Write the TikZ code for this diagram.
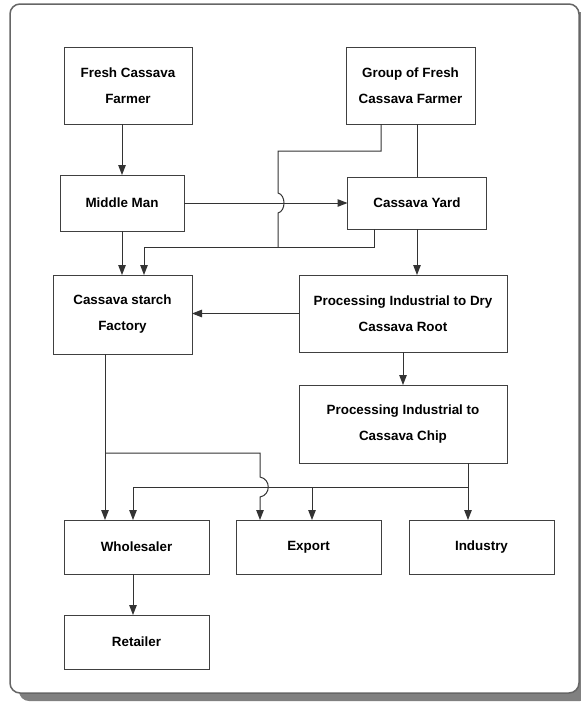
\documentclass[tikz,border=0pt]{standalone}
\usepackage{fontspec}
\setmainfont{Liberation Sans}
\usetikzlibrary{arrows.meta,calc}
\begin{document}
\begin{tikzpicture}[x=1pt,y=-1pt,
  box/.style={draw=black!75, line width=1pt, fill=white, align=center,
    font=\bfseries\fontsize{13.4}{26}\selectfont, inner sep=0pt, outer sep=0pt},
  conn/.style={draw=black!80, line width=1pt},
  arr/.style={conn, -{Triangle[length=10pt,width=7.5pt]}}]
\useasboundingbox (0,0) rectangle (581,702);
\fill[black!50, rounded corners=10pt] (19,12) rectangle (590,701);
\draw[black!60, line width=1.5pt, fill=white, rounded corners=10pt] (10,4) rectangle (579,693);

\node[box, minimum width=128pt, minimum height=77pt] (fresh) at (128,85.5) {Fresh Cassava\\Farmer};
\node[box, minimum width=129pt, minimum height=77pt] (group) at (410.5,85.5) {Group of Fresh\\Cassava Farmer};
\node[box, minimum width=124pt, minimum height=56pt] (middle) at (122,203) {Middle Man};
\node[box, minimum width=139pt, minimum height=52pt] (yard) at (417,203) {Cassava Yard};
\node[box, minimum width=139pt, minimum height=79pt] (starch) at (122.5,314.5) {Cassava starch\\Factory};
\node[box, minimum width=208pt, minimum height=77pt] (dry) at (403,313.5) {Processing Industrial to Dry\\Cassava Root};
\node[box, minimum width=208pt, minimum height=78pt] (chip) at (403,424) {Processing Industrial to\\Cassava Chip};
\node[box, minimum width=145pt, minimum height=54pt] (whole) at (136.5,547) {Wholesaler};
\node[box, minimum width=145pt, minimum height=54pt] (export) at (308.5,547) {Export};
\node[box, minimum width=145pt, minimum height=54pt] (industry) at (481.5,547) {Industry};
\node[box, minimum width=145pt, minimum height=54pt] (retail) at (136.5,642) {Retailer};

\coordinate (gA) at (381,151);
\coordinate (gB) at (278,151);
\coordinate (hy) at (278,247);
\coordinate (yA) at (374,247);
\coordinate (sA) at (144,247);
\coordinate (sB) at (105,453);
\coordinate (eA) at (260,453);
\coordinate (cA) at (468,487);
\coordinate (wA) at (133,487);
\coordinate (eB) at (312,487);

\draw[arr] (fresh.south -| middle.north) -- (middle.north);
\draw[arr] (middle.east) -- (yard.west);
\draw[conn] (group.south -| gA) -- (gA) -- (gB) -- (278,193) .. controls (286,195) and (286,211) .. (278,213) -- (hy);
\draw[conn] (group.south -| yard.north) -- (yard.north);
\draw[arr] (yard.south -| yA) -- (yA) -- (sA) -- (starch.north -| sA);
\draw[arr] (yard.south) -- (dry.north -| yard.south);
\draw[arr] (middle.south) -- (starch.north -| middle.south);
\draw[arr] (dry.west) -- (starch.east |- dry.west);
\draw[arr] (dry.south) -- (chip.north);
\draw[arr] (starch.south -| sB) -- (whole.north -| sB);
\draw[arr] (sB) -- (eA) -- (260,477) .. controls (271,479) and (271,495) .. (260,497) -- (export.north -| eA);
\draw[arr] (chip.south -| cA) -- (industry.north -| cA);
\draw[arr] (cA) -- (wA) -- (whole.north -| wA);
\draw[arr] (eB) -- (export.north -| eB);
\draw[arr] (whole.south -| wA) -- (retail.north -| wA);
\end{tikzpicture}
\end{document}
